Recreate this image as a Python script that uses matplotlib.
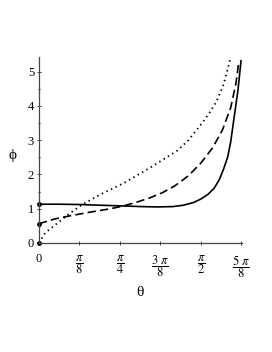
import numpy as np
import matplotlib.pyplot as plt

plt.rcParams['mathtext.fontset'] = 'stix'
plt.rcParams['font.family'] = ['Liberation Serif', 'DejaVu Serif']

# solid curve
theta_solid = [0, 0.2, 0.4, 0.6, 0.8, 1.0, 1.15, 1.3, 1.4, 1.5, 1.57, 1.64,
               1.70, 1.75, 1.79, 1.83, 1.86, 1.89, 1.93, 1.96]
phi_solid = [1.13, 1.13, 1.12, 1.10, 1.08, 1.06, 1.05, 1.06, 1.10, 1.18, 1.28,
             1.42, 1.60, 1.85, 2.15, 2.5, 2.95, 3.6, 4.45, 5.32]

# dashed curve
theta_dash = [0, 0.156, 0.3, 0.5, 0.7, 0.82, 0.95, 1.08, 1.2, 1.32, 1.45,
              1.57, 1.685, 1.78, 1.86, 1.91, 1.94]
phi_dash = [0.56, 0.70, 0.79, 0.90, 1.0, 1.08, 1.19, 1.32, 1.47, 1.67, 1.96,
            2.33, 2.78, 3.3, 3.95, 4.65, 5.32]

# dotted curve
theta_dot = [0, 0.06, 0.156, 0.28, 0.42, 0.6, 0.82, 1.08, 1.345, 1.45, 1.57,
             1.65, 1.72, 1.79, 1.86]
phi_dot = [0, 0.29, 0.52, 0.82, 1.12, 1.42, 1.74, 2.2, 2.70, 3.0, 3.45,
           3.78, 4.12, 4.62, 5.41]

xtick_vals = np.pi / 8 * np.arange(0, 6)
xtick_labels = ['0', r'$\dfrac{\pi}{8}$', r'$\dfrac{\pi}{4}$', r'$\dfrac{3\ \pi}{8}$',
                r'$\dfrac{\pi}{2}$', r'$\dfrac{5\ \pi}{8}$']

fig = plt.figure(figsize=(2.72, 3.52), dpi=100)
ax = fig.add_axes([0.143, 0.31, 0.745, 0.528])

ax.plot(theta_solid, phi_solid, color='black', lw=1.2)
ax.plot(theta_dash, phi_dash, color='black', lw=1.2, dashes=(5, 2.5))
ax.plot(theta_dot, phi_dot, color='black', lw=1.3, dashes=(0.8, 2))
ax.plot([0, 0, 0], [phi_solid[0], phi_dash[0], phi_dot[0]], 'o', color='black',
        ms=2.5, clip_on=False)

ax.set_xlim(0, 1.965)
ax.set_ylim(0, 5.43)
ax.spines['top'].set_visible(False)
ax.spines['right'].set_visible(False)
for s in ['left', 'bottom']:
    ax.spines[s].set_color('#444444')
    ax.spines[s].set_linewidth(0.9)

ax.set_xticks(xtick_vals)
ax.set_xticklabels(xtick_labels, fontsize=9)
ax.set_yticks(range(0, 6))
ax.set_yticks(np.arange(0.5, 5.5, 1), minor=True)
ax.tick_params(axis='both', direction='inout', length=3, width=0.7,
               color='#444444', labelsize=9, pad=2)
ax.tick_params(axis='y', which='minor', direction='inout', length=2, width=0.6)
ax.tick_params(axis='x', pad=6)

ax.set_xlabel('θ', fontsize=11, labelpad=4)
ax.set_ylabel('ϕ', fontsize=11, rotation=0, va='center')
ax.yaxis.set_label_coords(-0.13, 0.47)

fig.savefig('out.png', dpi=100)
